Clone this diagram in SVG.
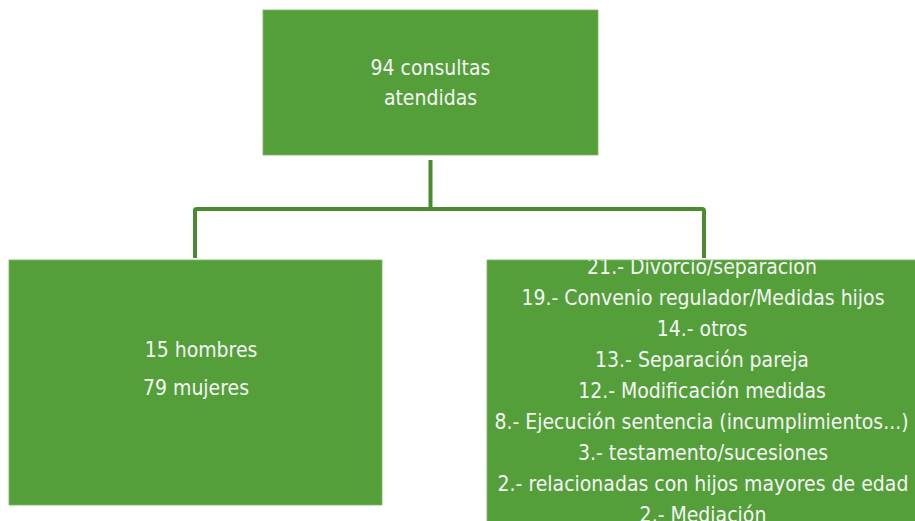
<svg xmlns="http://www.w3.org/2000/svg" width="915" height="521" viewBox="0 0 915 521">
<style>
.box{fill:#559f3b;stroke:#7bb665;stroke-width:0.8}
.t{font-family:"DejaVu Sans Condensed","DejaVu Sans",sans-serif;font-size:21px;fill:#f4f4f4;text-anchor:middle}
.c{fill:none;stroke:#4a8b30;stroke-width:4;stroke-linejoin:round;stroke-linecap:butt}
</style>
<defs>
<clipPath id="clipR"><rect x="487" y="260" width="428" height="261"/></clipPath>
</defs>
<rect width="915" height="521" fill="#ffffff"/>
<g id="connectors">
<line class="c" x1="430.5" y1="160" x2="430.5" y2="210"/>
<path class="c" d="M195,258 V210 Q195,209 197,209 H702 Q704,209 704,211 V258"/>
</g>
<g id="top">
<rect class="box" x="263" y="10" width="335" height="145"/>
<text class="t" x="430.5" y="75">94 consultas</text>
<text class="t" x="430.5" y="105">atendidas</text>
</g>
<g id="left">
<rect class="box" x="9" y="260" width="373" height="245"/>
<text class="t" x="201" y="357">15 hombres</text>
<text class="t" x="196" y="395">79 mujeres</text>
</g>
<g id="right">
<rect class="box" x="487" y="260" width="430" height="265"/>
<g clip-path="url(#clipR)">
<text class="t" x="702" y="274">21.- Divorcio/separacion</text>
<text class="t" x="703" y="305">19.- Convenio regulador/Medidas hijos</text>
<text class="t" x="702" y="336">14.- otros</text>
<text class="t" x="702" y="367">13.- Separación pareja</text>
<text class="t" x="702" y="398">12.- Modificación medidas</text>
<text class="t" x="701.5" y="429">8.- Ejecución sentencia (incumplimientos...)</text>
<text class="t" x="703" y="460">3.- testamento/sucesiones</text>
<text class="t" x="703" y="491">2.- relacionadas con hijos mayores de edad</text>
<text class="t" x="703" y="522">2.- Mediación</text>
</g>
</g>
</svg>
